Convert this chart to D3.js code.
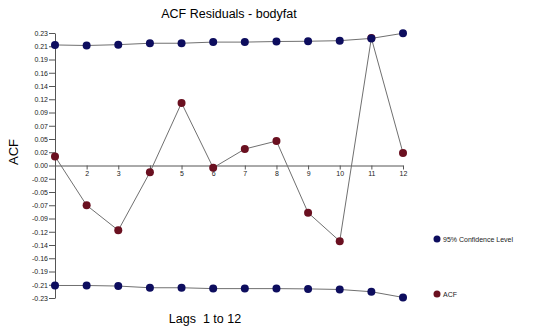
<!DOCTYPE html>
<html>
<head>
<meta charset="utf-8">
<script src="https://cdn.jsdelivr.net/npm/d3@7"></script>
<style>
  body { margin: 0; background: #fff; }
  text { font-family: Arial, "Liberation Sans", sans-serif; }
  .tick text { font-size: 7px; fill: #222; }
  .tick line, .domain { stroke: #555; }
</style>
</head>
<body>
<div id="chart"></div>
<script>
// chart data
var lags = [1, 2, 3, 4, 5, 6, 7, 8, 9, 10, 11, 12];
var acf = [0.016, -0.070, -0.114, -0.012, 0.110, -0.004, 0.029, 0.043, -0.083, -0.133, 0.224, 0.022];
var confUpper = [0.212, 0.211, 0.2125, 0.215, 0.215, 0.217, 0.217, 0.218, 0.2185, 0.2195, 0.2235, 0.2325];
var confLower = [-0.211, -0.211, -0.212, -0.215, -0.215, -0.2165, -0.2165, -0.2165, -0.217, -0.218, -0.222, -0.232];
var yTickLabels = ["-0.23", "-0.21", "-0.19", "-0.16", "-0.14", "-0.12", "-0.09", "-0.07", "-0.05", "-0.02",
    "0.00", "0.02", "0.05", "0.07", "0.09", "0.12", "0.14", "0.16", "0.19", "0.21", "0.23"];
var yMax = 0.233;

var svgWidth = 540;
var svgHeight = 326;
var margin = { top: 33, left: 55 };
var width = 348;
var height = 265;

var svg = d3.select("#chart")
    .append("svg")
    .attr("width", svgWidth)
    .attr("height", svgHeight);

var chartGroup = svg.append("g")
    .attr("transform", `translate(${margin.left}, ${margin.top})`);

var xScale = d3.scaleLinear()
    .domain([1, 12])
    .range([0, width]);

var yScale = d3.scaleLinear()
    .domain([-yMax, yMax])
    .range([height, 0]);

// y ticks evenly spaced over the domain, labelled as in the picture
var yTickValues = yTickLabels.map((d, i) => -yMax + i * (2 * yMax / (yTickLabels.length - 1)));

var leftAxis = d3.axisLeft(yScale)
    .tickValues(yTickValues)
    .tickFormat((d, i) => yTickLabels[i])
    .tickSize(6)
    .tickPadding(1)
    .tickSizeOuter(0);

chartGroup.append("g")
    .call(leftAxis);

var bottomAxis = d3.axisBottom(xScale)
    .tickValues(lags)
    .tickFormat(d => d === 1 ? "" : d)
    .tickSize(4)
    .tickPadding(2)
    .tickSizeOuter(0);

chartGroup.append("g")
    .attr("transform", `translate(0, ${yScale(0)})`)
    .call(bottomAxis);

var line = d3.line()
    .x((d, i) => xScale(lags[i]))
    .y(d => yScale(d));

// acf first so the confidence dots sit on top
var series = [
    { values: acf, color: "#6a1020" },
    { values: confUpper, color: "#0d0d5e" },
    { values: confLower, color: "#0d0d5e" }
];

series.forEach(function(s) {
    chartGroup.append("path")
        .datum(s.values)
        .attr("fill", "none")
        .attr("stroke", "#707070")
        .attr("stroke-width", 1)
        .attr("d", line);
});

series.forEach(function(s) {
    chartGroup.selectAll(null)
        .data(s.values)
        .enter()
        .append("circle")
        .attr("cx", (d, i) => xScale(lags[i]))
        .attr("cy", d => yScale(d))
        .attr("r", 4)
        .attr("fill", s.color);
});

// title and axis labels
svg.append("text")
    .attr("x", 229)
    .attr("y", 18)
    .attr("text-anchor", "middle")
    .style("font-size", "12.5px")
    .text("ACF Residuals - bodyfat");

svg.append("text")
    .attr("transform", "translate(18, 152) rotate(-90)")
    .attr("text-anchor", "middle")
    .style("font-size", "13px")
    .text("ACF");

svg.append("text")
    .attr("x", 205)
    .attr("y", 323)
    .attr("text-anchor", "middle")
    .style("font-size", "12.5px")
    .style("white-space", "pre")
    .text("Lags  1 to 12");

// legend
var legend = [
    { label: "95% Confidence Level", color: "#0d0d5e", y: 239 },
    { label: "ACF", color: "#6a1020", y: 294 }
];

legend.forEach(function(l) {
    svg.append("circle")
        .attr("cx", 437)
        .attr("cy", l.y)
        .attr("r", 3.5)
        .attr("fill", l.color);
    svg.append("text")
        .attr("x", 443)
        .attr("y", l.y + 2.5)
        .style("font-size", "7px")
        .style("fill", "#222")
        .text(l.label);
});
</script>
</body>
</html>
